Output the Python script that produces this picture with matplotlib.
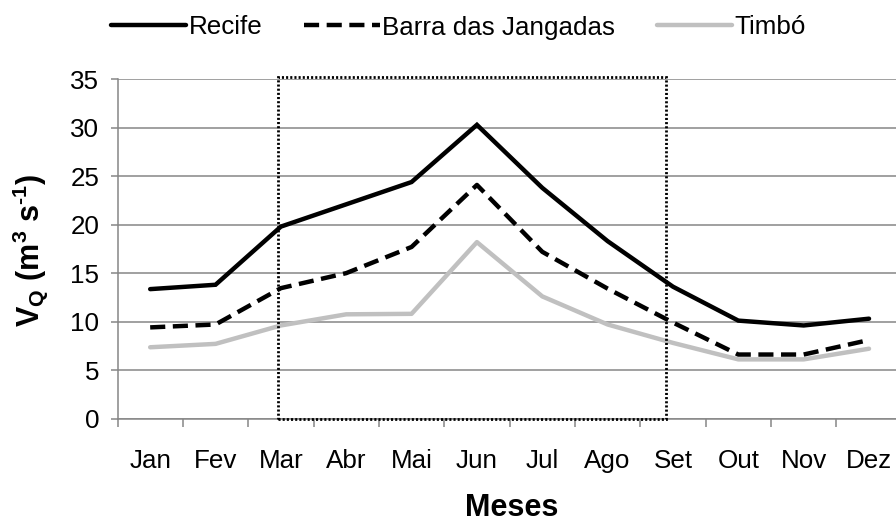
import matplotlib
matplotlib.use("Agg")
import matplotlib.pyplot as plt
from matplotlib.patches import Rectangle
from matplotlib.ticker import FixedLocator, NullFormatter

plt.rcParams['font.family'] = ['Liberation Sans', 'DejaVu Sans']
plt.rcParams['mathtext.fontset'] = 'custom'
plt.rcParams['mathtext.rm'] = 'Liberation Sans:bold'
plt.rcParams['mathtext.bf'] = 'Liberation Sans:bold'
plt.rcParams['mathtext.it'] = 'Liberation Sans:bold'

months = ["Jan", "Fev", "Mar", "Abr", "Mai", "Jun", "Jul", "Ago", "Set", "Out", "Nov", "Dez"]
recife = [13.35, 13.8, 19.8, 22.1, 24.4, 30.3, 23.8, 18.3, 13.6, 10.1, 9.6, 10.3]
barra = [9.4, 9.7, 13.45, 15.0, 17.7, 24.1, 17.2, 13.4, 9.9, 6.6, 6.6, 8.1]
timbo = [7.35, 7.7, 9.6, 10.75, 10.8, 18.2, 12.6, 9.7, 7.8, 6.1, 6.1, 7.2]
series_names = ["Recife", "Barra das Jangadas", "Timbó"]
yticks = [0, 5, 10, 15, 20, 25, 30, 35]

W, H = 896, 524
fig = plt.figure(figsize=(W / 100, H / 100), dpi=100)
left_px, right_px = 117.5, 901.7
top_px, bot_px = 79.3, 418.5
ax = fig.add_axes([left_px / W, 1 - bot_px / H, (right_px - left_px) / W, (bot_px - top_px) / H])

x = list(range(len(months)))
axis_gray = "#868686"
fs = 18.7

ax.plot(x, recife, color="black", lw=3.2, solid_capstyle="round", solid_joinstyle="miter", label=series_names[0], zorder=4)
ax.plot(x, barra, color="black", lw=3.2, linestyle=(0, (3.4, 1.7)), dash_capstyle="butt", label=series_names[1], zorder=4)
ax.plot(x, timbo, color="#c0c0c0", lw=3.2, solid_capstyle="round", label=series_names[2], zorder=3)

ax.set_xlim(-0.5, len(months) - 0.5)
ax.set_ylim(0, 35)
ax.set_yticks(yticks)
ax.set_yticklabels([str(v) for v in yticks], fontsize=fs)
ax.yaxis.grid(True, color=axis_gray, lw=1.1)
ax.set_axisbelow(True)

ax.set_xticks(x)
ax.set_xticklabels(months, fontsize=fs)
ax.xaxis.set_minor_locator(FixedLocator([i - 0.5 for i in range(len(months) + 1)]))
ax.xaxis.set_minor_formatter(NullFormatter())
ax.tick_params(axis="x", which="major", length=0, pad=22)
ax.tick_params(axis="x", which="minor", length=6, width=1.1, color=axis_gray, direction="out")
ax.tick_params(axis="y", which="major", length=5, width=1.1, color=axis_gray, pad=8)

for s in ["top", "right"]:
    ax.spines[s].set_visible(False)
for s in ["left", "bottom"]:
    ax.spines[s].set_color(axis_gray)
    ax.spines[s].set_linewidth(1.1)

# highlighted period (Mar - Set)
x0 = months.index("Mar") - 0.04
x1 = months.index("Set") - 0.1
rect = Rectangle((x0, 0), x1 - x0, 35.25, fill=False, edgecolor="black", lw=2.0,
                 linestyle=(0, (0.75, 0.75)), clip_on=False, zorder=5)
ax.add_patch(rect)

fig.text(511.5 / W, 1 - 516 / H, "Meses", ha="center", va="baseline", fontsize=22, fontweight="bold")
fig.text(30 / W, 1 - 250 / H, r"V$_{\mathrm{Q}}$ (m$^{\mathrm{3}}$ s$^{\mathrm{\text{-}1}}$)", ha="center", va="center",
         rotation=90, fontsize=22, fontweight="bold")

leg = fig.legend(loc="center", bbox_to_anchor=(458.5 / W, 1 - 27.5 / H), ncol=3, frameon=False,
                 fontsize=fs, handlelength=2.9, handletextpad=0.1, columnspacing=1.6, borderpad=0)

fig.savefig("out.png", dpi=100)
